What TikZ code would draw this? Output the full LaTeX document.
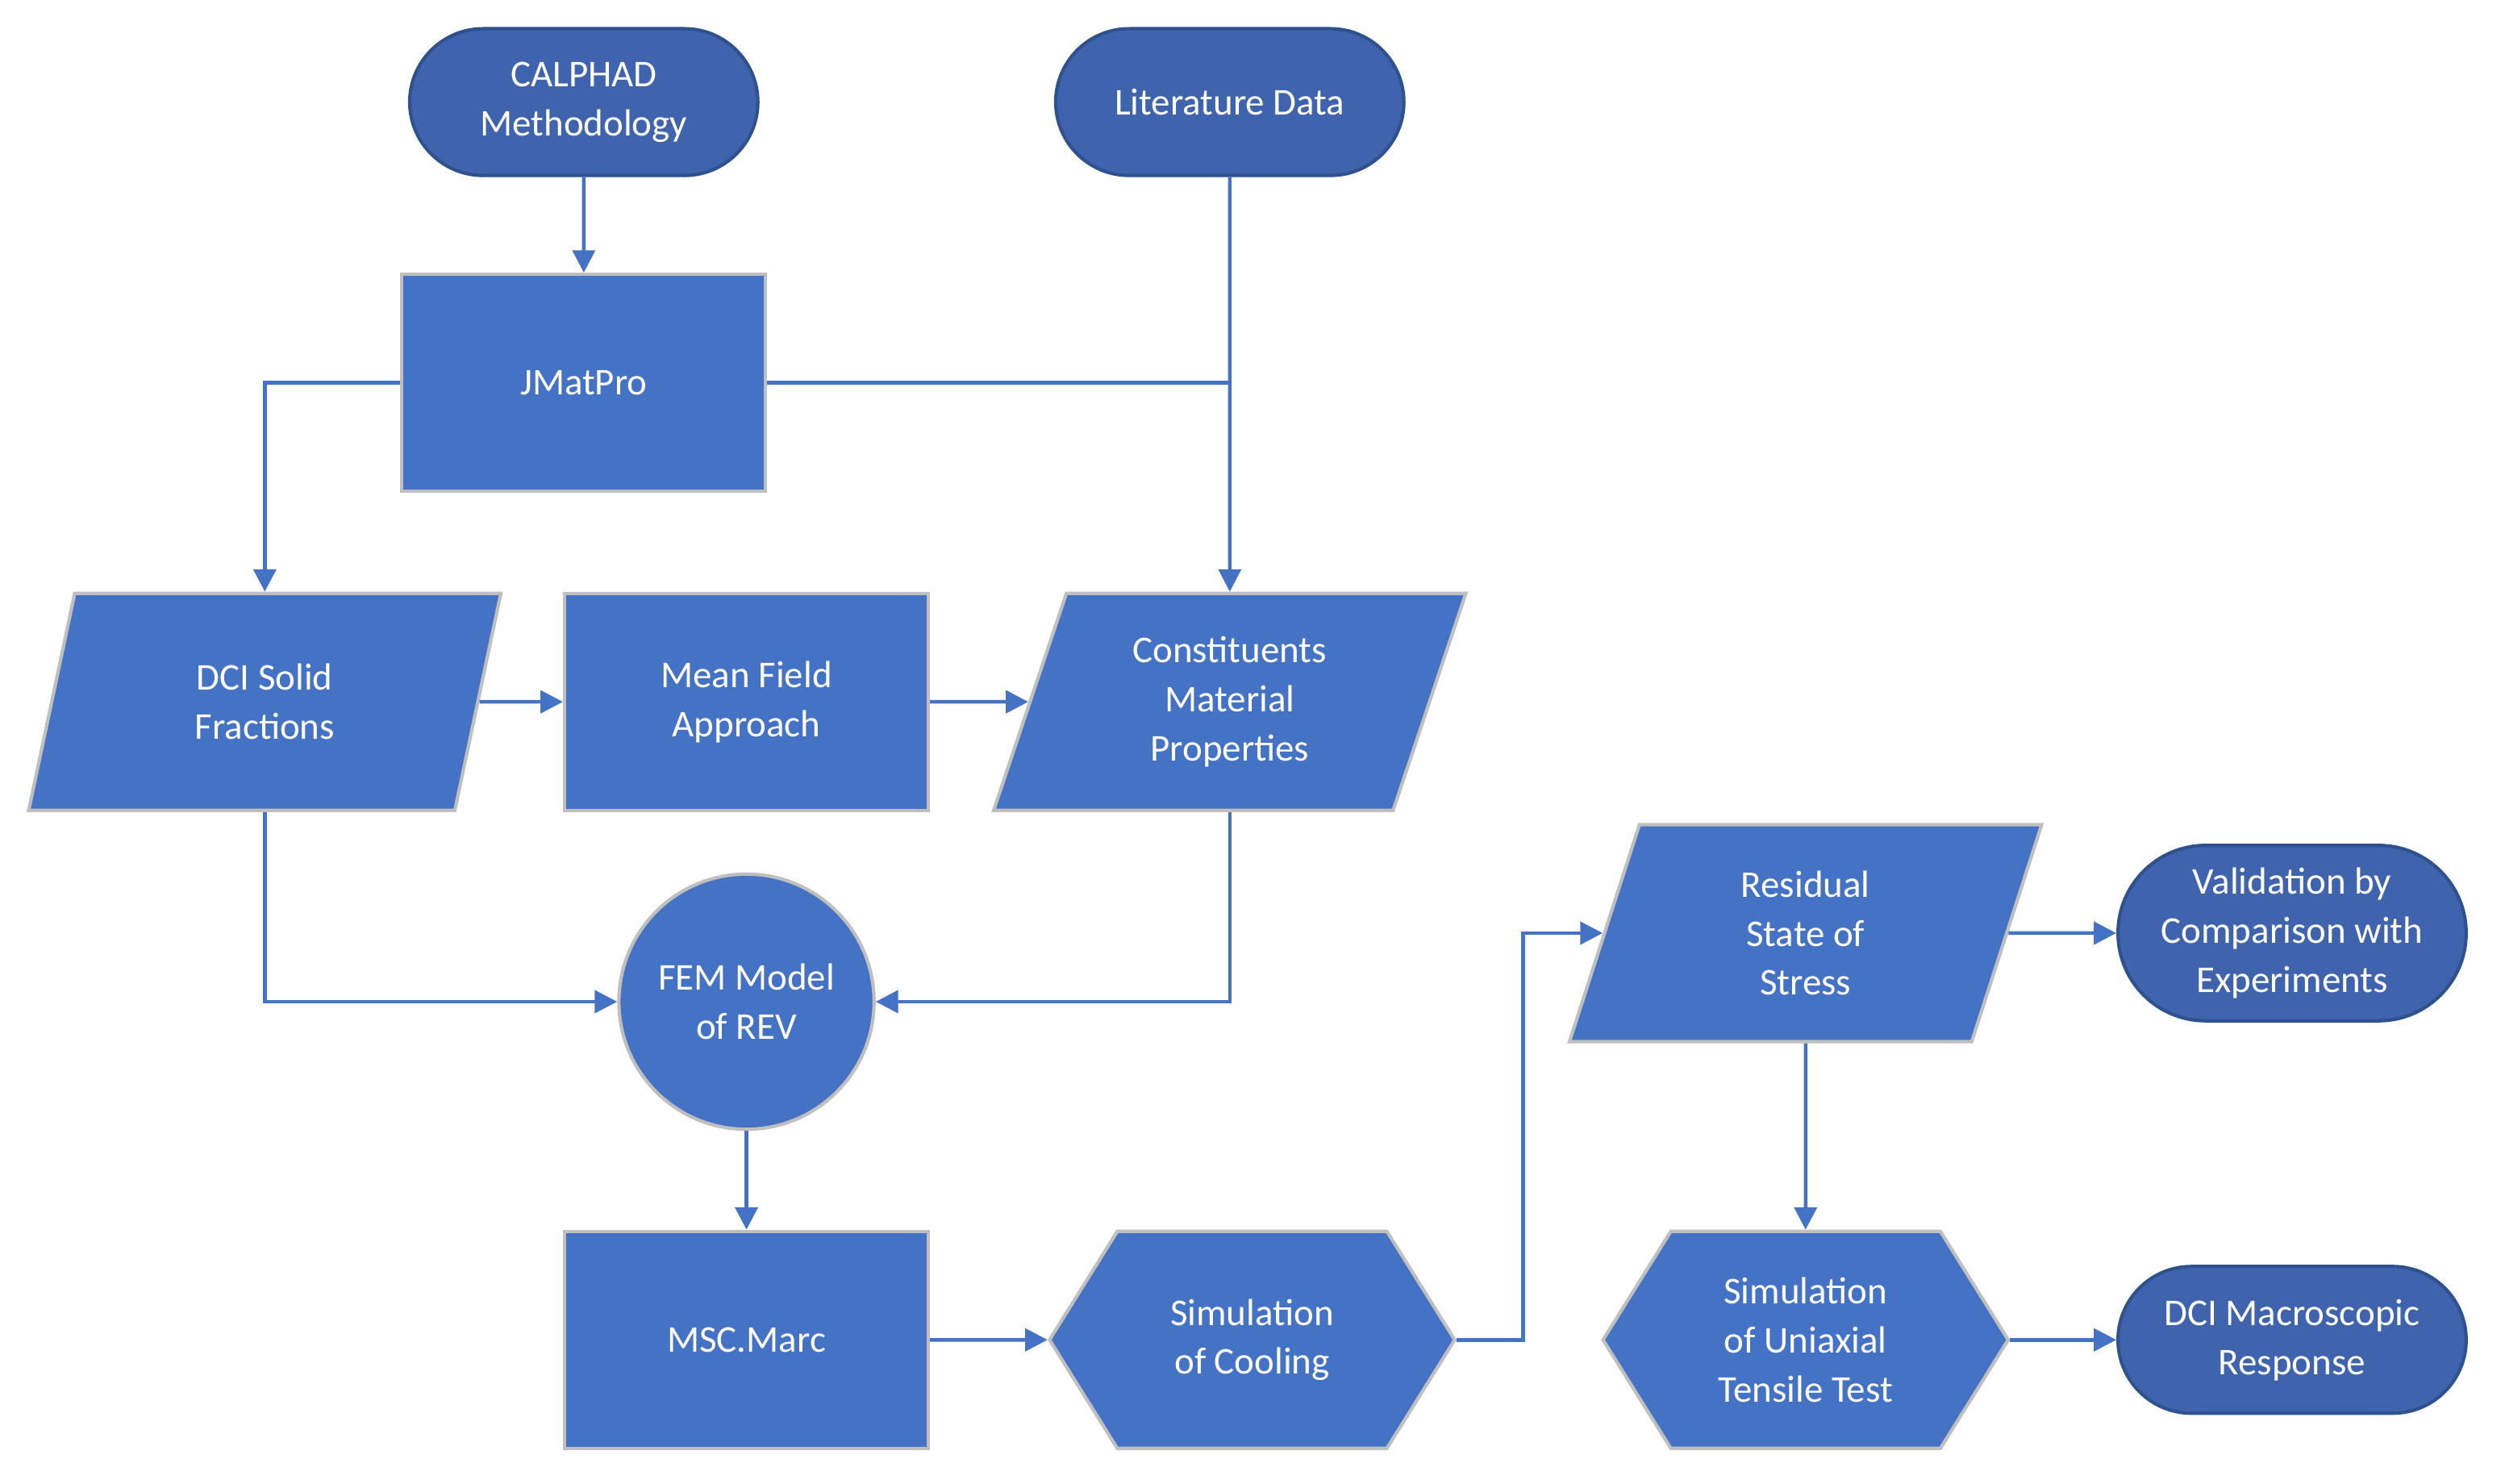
\documentclass[tikz,border=0pt]{standalone}
\usepackage{fontspec}
\setmainfont{Carlito}
\usetikzlibrary{shapes.geometric,shapes.symbols,shapes.misc,arrows.meta}
\definecolor{boxblue}{HTML}{4472C4}
\definecolor{termblue}{HTML}{3F63AD}
\definecolor{termedge}{HTML}{2F528F}
\definecolor{boxedge}{HTML}{BFBFBF}
\tikzset{
  base/.style={text=white, align=center, font=\fontsize{13.5}{17.5}\selectfont, line width=1.2pt},
  term/.style={base, rounded rectangle, fill=termblue, draw=termedge, minimum width=4.6cm},
  proc/.style={base, rectangle, fill=boxblue, draw=boxedge, minimum width=4.56cm, minimum height=2.72cm},
  data/.style={base, trapezium, trapezium left angle=64, trapezium right angle=116, trapezium stretches body,
    fill=boxblue, draw=boxedge, minimum width=5.92cm, minimum height=2.72cm},
  prep/.style={base, signal, signal to=east and west, signal pointer angle=116,
    fill=boxblue, draw=boxedge, minimum width=5.08cm, minimum height=2.72cm},
  link/.style={draw=boxblue, line width=1.3pt},
  flow/.style={link, -{Triangle[length=8pt,width=8pt]}}
}
\begin{document}
\begin{tikzpicture}
  \useasboundingbox (0,0) rectangle (31.36,-18.6);
  % start points
  \node[term, minimum height=1.84cm] (calphad) at (7.32,-1.28) {CALPHAD\\Methodology};
  \node[term, minimum height=1.84cm] (lit) at (15.42,-1.28) {Literature Data};
  % first row
  \node[proc] (jmat) at (7.32,-4.8) {JMatPro};
  \node[data] (dci) at (3.32,-8.8) {DCI Solid\\Fractions};
  \node[proc] (mean) at (9.36,-8.8) {Mean Field\\Approach};
  \node[data] (const) at (15.42,-8.8) {Constituents\\Material\\Properties};
  % REV model
  \node[base, circle, fill=boxblue, draw=boxedge, minimum size=3.2cm] (fem) at (9.36,-12.56) {FEM Model\\of REV};
  \node[proc] (msc) at (9.36,-16.8) {MSC.Marc};
  \node[prep] (cool) at (15.7,-16.8) {Simulation\\of Cooling};
  \node[data] (resid) at (22.64,-11.7) {Residual\\State of\\Stress};
  \node[term, minimum height=2.2cm] (valid) at (28.74,-11.7) {Validation by\\Comparison with\\Experiments};
  \node[prep] (unix) at (22.64,-16.8) {Simulation\\of Uniaxial\\Tensile Test};
  \node[term, minimum height=1.84cm] (macro) at (28.74,-16.8) {DCI Macroscopic\\Response};
  \coordinate (join) at (lit.south |- jmat.east);
  \coordinate (bend) at (19.1,-16.8);
  % connectors
  \draw[flow] (calphad) -- (jmat);
  \draw[flow] (lit.south) -- (const.north);
  \draw[link] (jmat.east) -- (join);
  \draw[flow] (jmat.west) -| (dci.north);
  \draw[flow] (dci.east) -- (mean.west);
  \draw[flow] (mean.east) -- (const.west);
  \draw[flow] (dci.south) |- (fem.west);
  \draw[flow] (const.south) |- (fem.east);
  \draw[flow] (fem) -- (msc);
  \draw[flow] (msc) -- (cool);
  \draw[flow] (cool.east) -- (bend) |- (resid.west);
  \draw[flow] (resid.east) -- (valid.west);
  \draw[flow] (resid.south) -- (unix.north);
  \draw[flow] (unix.east) -- (macro.west);
\end{tikzpicture}
\end{document}
